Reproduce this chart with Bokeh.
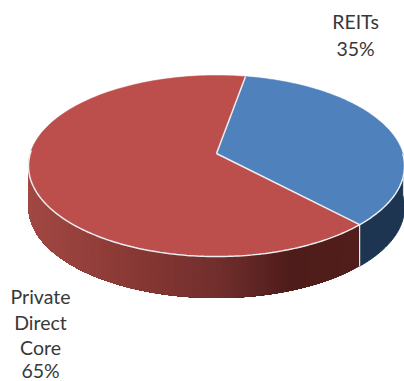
import numpy as np
from bokeh.plotting import figure
from bokeh.models import Range1d
from bokeh.core.properties import value
from bokeh.embed import file_html
from bokeh.resources import INLINE

categories = ["REITs", "Private Direct Core"]
shares = [35, 65]
labels = [["REITs", "35%"], ["Private", "Direct", "Core", "65%"]]
top_colors = ["#4F81BD", "#BC4F4C"]

W, H = 404, 381
OFF = 0
APEX = (216.0, 153.0)
A, a, k = 186.2, 88.8, 0.138
DEPTH = 41.5
START = 10.2


def project(t_deg, drop=0.0):
    t = np.radians(t_deg)
    u, v = np.sin(t), np.cos(t)
    d = 1 + k * v
    return APEX[0] + A * u / d, APEX[1] - a * v / d + drop


def side_color(x):
    stops = [(28, (162, 72, 68)), (120, (140, 58, 54)), (220, (112, 46, 44)), (290, (78, 28, 26)), (357, (82, 30, 28))]
    xs = [s[0] for s in stops]
    return "#%02x%02x%02x" % tuple(round(np.interp(x, xs, [s[1][i] for s in stops])) for i in range(3))


p = figure(width=W, height=H, output_backend="svg", toolbar_location=None,
           x_range=Range1d(OFF, OFF + W), y_range=Range1d(OFF + H, OFF),
           min_border=0, outline_line_color=None, background_fill_color="white")
p.axis.visible = False
p.grid.visible = False

angles = np.cumsum([0] + shares) / sum(shares) * 360 + START

# side wall of the blue slice, then the red one (each strip runs under the next)
t_split = angles[1]
tb = np.linspace(90, t_split, 60)
xt, yt = project(tb)
xb, yb = project(tb, DEPTH)
p.patch(np.r_[xt, xb[::-1]], np.r_[yt, yb[::-1]], fill_color="#1D3550", line_color="#1D3550")

tr = np.linspace(t_split, 270, 150)
for j in range(len(tr) - 1):
    ts = np.linspace(tr[j], 270, 40)
    x0, y0 = project(ts)
    x1, y1 = project(ts, DEPTH)
    c = side_color(float(project((tr[j] + tr[j + 1]) / 2)[0]))
    p.patch(np.r_[x0, x1[::-1]], np.r_[y0, y1[::-1]], fill_color=c, line_color=None)

# top faces
for i, col in enumerate(top_colors):
    ts = np.linspace(angles[i], angles[i + 1], 160)
    xs, ys = project(ts)
    p.patch(np.r_[APEX[0], xs], np.r_[APEX[1], ys], fill_color=col, line_color=col, line_width=0.5)

# white edges
edge = "#EDEFF2"
for ang in angles[:2]:
    xe, ye = project(ang)
    p.line([APEX[0], xe], [APEX[1], ye], line_color=edge, line_width=1.5)
xf, yf = project(np.linspace(90, 272, 200))
p.line(xf, yf, line_color=edge, line_width=1.5)
xe, ye = project(t_split)
p.line([xe, xe], [ye, ye + DEPTH], line_color=edge, line_width=1.2)

# labels
positions = [(355, [21, 48]), (40, [296, 322, 347, 370])]
for (cx, ysl), lines in zip(positions, labels):
    p.text([cx] * len(lines), ysl, text=lines, text_align="center", text_baseline="middle",
           text_font=value("Lato"), text_font_size="19.5px", text_color="#383838")

open("out.html", "w").write(file_html(p, INLINE))
